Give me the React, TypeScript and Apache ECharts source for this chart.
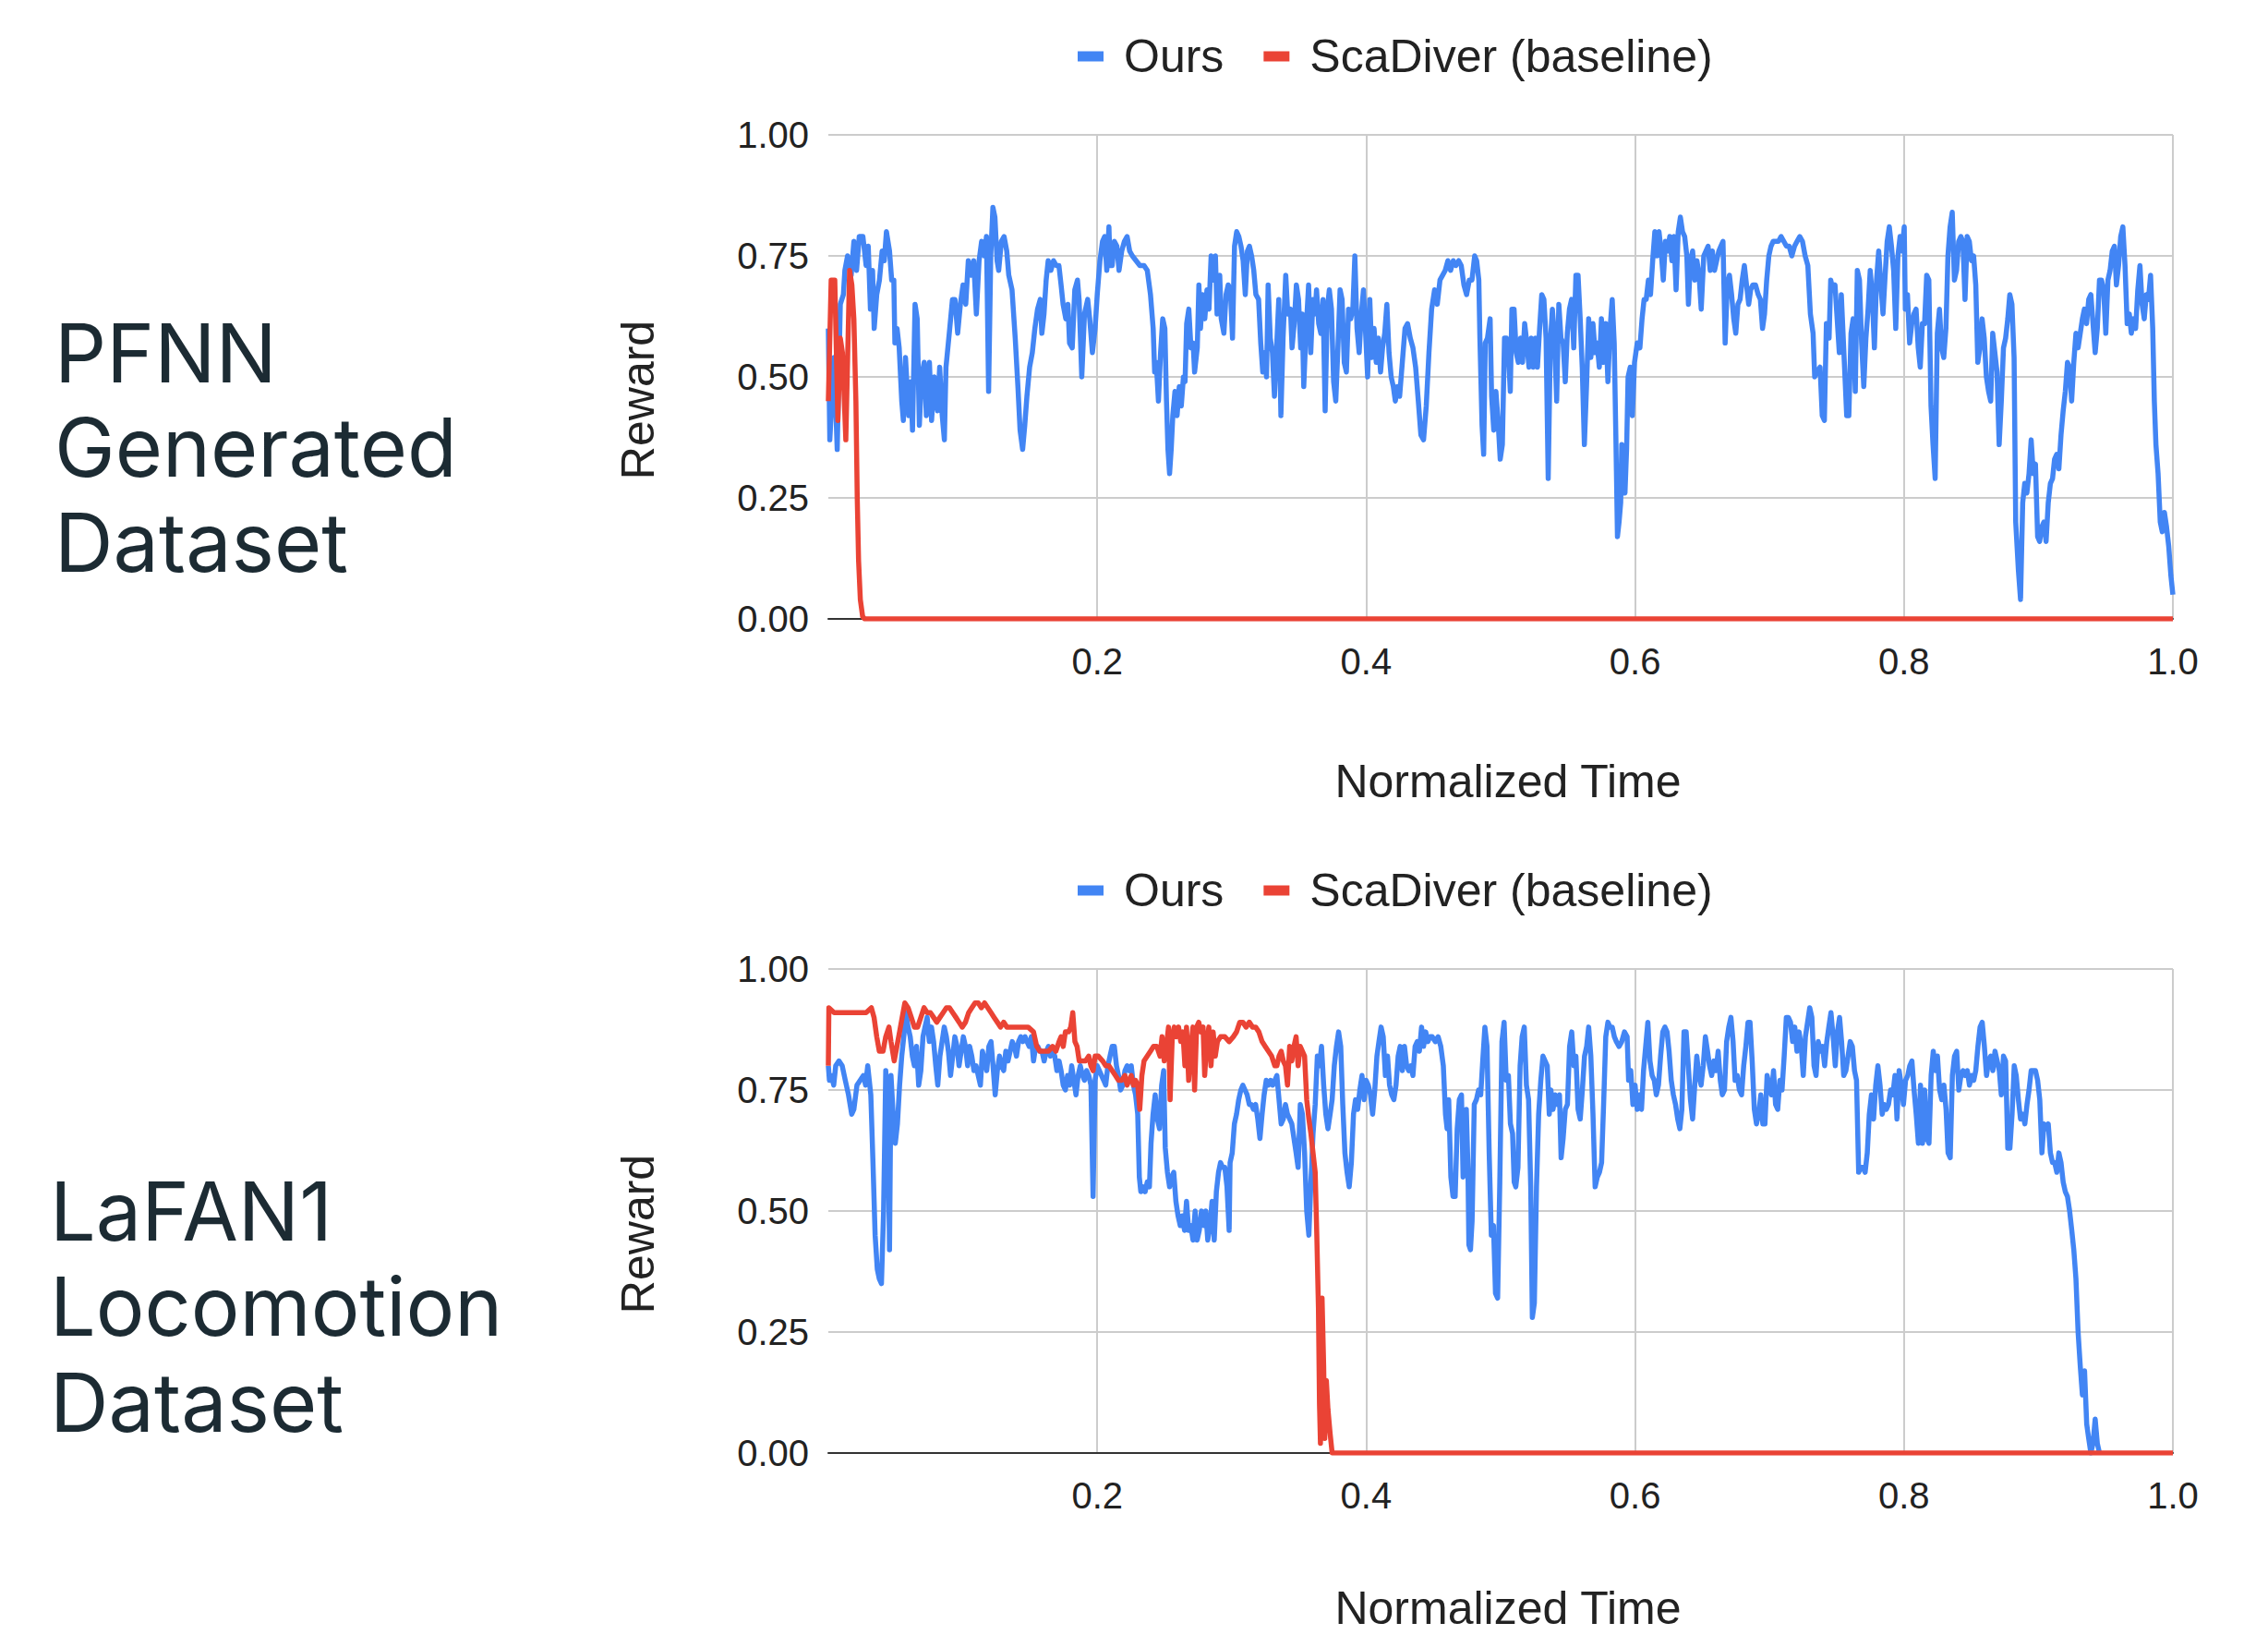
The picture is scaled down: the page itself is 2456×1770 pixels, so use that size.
import React, { useEffect, useRef } from "react";
import * as echarts from "echarts";

// ---------- data (normalized time, reward) ----------
const seriesNames = ["Ours", "ScaDiver (baseline)"];
const datasetTitles = [
  ["PFNN", "Generated", "Dataset"],
  ["LaFAN1", "Locomotion", "Dataset"],
];

const pfnnOurs: [number, number][] = [
  [0, 0.6], [0.0011, 0.37], [0.0043, 0.54], [0.0066, 0.35], [0.0089, 0.65], [0.0112, 0.67],
  [0.0123, 0.72], [0.0143, 0.75], [0.017, 0.71], [0.019, 0.78], [0.021, 0.72], [0.023, 0.79],
  [0.0257, 0.79], [0.0281, 0.73], [0.0297, 0.77], [0.0313, 0.64], [0.0329, 0.72], [0.0341, 0.6],
  [0.036, 0.67], [0.038, 0.7], [0.04, 0.76], [0.0416, 0.74], [0.0432, 0.8], [0.0455, 0.76],
  [0.0471, 0.7], [0.0487, 0.7], [0.0495, 0.57], [0.0511, 0.6], [0.0527, 0.56], [0.0546, 0.45],
  [0.0558, 0.41], [0.0574, 0.54], [0.0598, 0.42], [0.0614, 0.49], [0.0626, 0.39], [0.0645, 0.65],
  [0.0661, 0.62], [0.0677, 0.4], [0.0693, 0.5], [0.0713, 0.53], [0.0729, 0.42], [0.0752, 0.53],
  [0.0768, 0.41], [0.0788, 0.5], [0.0812, 0.43], [0.0828, 0.52], [0.0847, 0.42], [0.0863, 0.37],
  [0.0875, 0.52], [0.0903, 0.6], [0.0923, 0.66], [0.0942, 0.66], [0.0962, 0.59], [0.0982, 0.65],
  [0.1002, 0.69], [0.1022, 0.65], [0.1041, 0.74], [0.1061, 0.71], [0.1081, 0.74], [0.1101, 0.63],
  [0.1121, 0.74], [0.114, 0.78], [0.116, 0.75], [0.1176, 0.79], [0.1192, 0.47], [0.1208, 0.75],
  [0.1224, 0.85], [0.1239, 0.83], [0.1255, 0.74], [0.1267, 0.72], [0.1287, 0.78], [0.1307, 0.79],
  [0.1327, 0.76], [0.1342, 0.71], [0.1366, 0.68], [0.139, 0.58], [0.141, 0.48], [0.1426, 0.39],
  [0.1445, 0.35], [0.1461, 0.4], [0.1477, 0.46], [0.1497, 0.52], [0.1517, 0.55], [0.1536, 0.6],
  [0.1556, 0.64], [0.1576, 0.66], [0.1588, 0.59], [0.1604, 0.63], [0.162, 0.7], [0.1635, 0.74],
  [0.1655, 0.72], [0.1675, 0.74], [0.1695, 0.73], [0.1715, 0.73], [0.1731, 0.69], [0.1746, 0.65],
  [0.1766, 0.62], [0.1782, 0.65], [0.1794, 0.57], [0.1814, 0.56], [0.1833, 0.68], [0.1853, 0.7],
  [0.1865, 0.66], [0.1885, 0.5], [0.1905, 0.63], [0.1929, 0.66], [0.1944, 0.62], [0.1964, 0.55],
  [0.1984, 0.6], [0.2, 0.67], [0.202, 0.74], [0.2039, 0.78], [0.2055, 0.79], [0.2071, 0.72],
  [0.2087, 0.81], [0.2095, 0.73], [0.2111, 0.73], [0.2127, 0.78], [0.2146, 0.77], [0.2162, 0.72],
  [0.2182, 0.76], [0.2202, 0.78], [0.2222, 0.79], [0.2241, 0.76], [0.2261, 0.75], [0.2289, 0.74],
  [0.2317, 0.73], [0.2348, 0.73], [0.2372, 0.72], [0.2396, 0.67], [0.2416, 0.6], [0.2427, 0.51],
  [0.2439, 0.53], [0.2455, 0.45], [0.2471, 0.55], [0.2487, 0.62], [0.2503, 0.6], [0.2515, 0.45],
  [0.2526, 0.35], [0.2538, 0.3], [0.255, 0.35], [0.2562, 0.42], [0.2578, 0.47], [0.2594, 0.42],
  [0.261, 0.48], [0.2625, 0.44], [0.2641, 0.5], [0.2653, 0.49], [0.2665, 0.61], [0.2681, 0.64],
  [0.2697, 0.56], [0.2713, 0.57], [0.2724, 0.51], [0.2744, 0.56], [0.2756, 0.69], [0.2768, 0.6],
  [0.2784, 0.67], [0.28, 0.62], [0.2816, 0.68], [0.2831, 0.64], [0.2847, 0.75], [0.2863, 0.7],
  [0.2879, 0.75], [0.2891, 0.63], [0.2911, 0.71], [0.2922, 0.62], [0.2942, 0.59], [0.2958, 0.67],
  [0.2974, 0.69], [0.299, 0.68], [0.3006, 0.58], [0.3021, 0.77], [0.3037, 0.8], [0.3053, 0.79],
  [0.3069, 0.77], [0.3085, 0.74], [0.3101, 0.67], [0.3117, 0.76], [0.3132, 0.77], [0.3148, 0.75],
  [0.3164, 0.72], [0.318, 0.67], [0.32, 0.66], [0.3216, 0.57], [0.3231, 0.51], [0.3243, 0.55],
  [0.3259, 0.5], [0.3271, 0.69], [0.3287, 0.58], [0.3303, 0.55], [0.3318, 0.46], [0.3334, 0.56],
  [0.335, 0.66], [0.3366, 0.42], [0.3382, 0.58], [0.3402, 0.71], [0.3417, 0.63], [0.3437, 0.64],
  [0.3449, 0.56], [0.3465, 0.61], [0.3481, 0.69], [0.3497, 0.66], [0.3513, 0.56], [0.3524, 0.63],
  [0.3536, 0.48], [0.3552, 0.59], [0.3572, 0.69], [0.3588, 0.55], [0.3604, 0.66], [0.3619, 0.63],
  [0.3631, 0.68], [0.3647, 0.61], [0.3663, 0.59], [0.3679, 0.66], [0.3695, 0.43], [0.3711, 0.64],
  [0.3726, 0.68], [0.3742, 0.64], [0.3758, 0.49], [0.3774, 0.45], [0.379, 0.56], [0.3806, 0.68],
  [0.3821, 0.66], [0.3837, 0.53], [0.3853, 0.51], [0.3869, 0.64], [0.3885, 0.62], [0.3901, 0.64],
  [0.3916, 0.75], [0.3932, 0.6], [0.3948, 0.55], [0.3964, 0.63], [0.398, 0.68], [0.3996, 0.59],
  [0.4011, 0.5], [0.4027, 0.66], [0.4043, 0.54], [0.4059, 0.6], [0.4075, 0.53], [0.4091, 0.58],
  [0.4107, 0.51], [0.4122, 0.56], [0.4138, 0.59], [0.4154, 0.65], [0.417, 0.55], [0.4186, 0.5],
  [0.4202, 0.48], [0.4217, 0.45], [0.4233, 0.48], [0.4249, 0.46], [0.4269, 0.53], [0.4289, 0.6],
  [0.4308, 0.61], [0.4328, 0.58], [0.4348, 0.56], [0.4368, 0.52], [0.4388, 0.45], [0.4407, 0.38],
  [0.4427, 0.37], [0.4447, 0.44], [0.4467, 0.55], [0.4487, 0.64], [0.4509, 0.68], [0.4529, 0.65],
  [0.4549, 0.7], [0.4569, 0.71], [0.4588, 0.72], [0.4608, 0.74], [0.4628, 0.72], [0.4648, 0.74],
  [0.4668, 0.73], [0.4688, 0.74], [0.4707, 0.73], [0.4727, 0.69], [0.4747, 0.67], [0.4767, 0.7],
  [0.4787, 0.7], [0.4807, 0.75], [0.4822, 0.74], [0.4838, 0.7], [0.4846, 0.58], [0.4862, 0.4],
  [0.4874, 0.34], [0.4886, 0.57], [0.4902, 0.58], [0.4922, 0.62], [0.4933, 0.46], [0.4949, 0.39],
  [0.4965, 0.47], [0.4981, 0.41], [0.4997, 0.33], [0.5013, 0.36], [0.5029, 0.58], [0.5044, 0.58],
  [0.5056, 0.56], [0.5072, 0.47], [0.5084, 0.64], [0.51, 0.64], [0.5116, 0.55], [0.5132, 0.53],
  [0.5148, 0.58], [0.5163, 0.53], [0.5179, 0.61], [0.5195, 0.57], [0.5211, 0.52], [0.5227, 0.58],
  [0.5243, 0.52], [0.5259, 0.58], [0.5274, 0.52], [0.529, 0.6], [0.5306, 0.67], [0.5322, 0.66],
  [0.5338, 0.58], [0.5354, 0.29], [0.537, 0.57], [0.5385, 0.64], [0.5401, 0.58], [0.5417, 0.45],
  [0.5433, 0.65], [0.5449, 0.58], [0.5465, 0.57], [0.5481, 0.49], [0.5496, 0.59], [0.5512, 0.64],
  [0.5528, 0.66], [0.5544, 0.56], [0.556, 0.71], [0.5576, 0.71], [0.5592, 0.62], [0.5607, 0.52],
  [0.5623, 0.36], [0.5639, 0.48], [0.5655, 0.62], [0.5671, 0.54], [0.5687, 0.61], [0.5703, 0.55],
  [0.5718, 0.57], [0.5734, 0.52], [0.575, 0.62], [0.5766, 0.53], [0.5782, 0.61], [0.5798, 0.49],
  [0.5814, 0.6], [0.583, 0.66], [0.5845, 0.57], [0.5857, 0.38], [0.5869, 0.17], [0.5881, 0.2],
  [0.5893, 0.24], [0.5901, 0.36], [0.5913, 0.28], [0.5925, 0.26], [0.5937, 0.35], [0.5948, 0.5],
  [0.5964, 0.52], [0.598, 0.42], [0.5996, 0.53], [0.6016, 0.57], [0.6036, 0.56], [0.6052, 0.62],
  [0.6067, 0.66], [0.6083, 0.66], [0.6099, 0.7], [0.6115, 0.67], [0.6131, 0.74], [0.6147, 0.8],
  [0.6163, 0.75], [0.6178, 0.8], [0.6194, 0.76], [0.621, 0.7], [0.6226, 0.78], [0.6242, 0.76],
  [0.6258, 0.79], [0.6274, 0.74], [0.6289, 0.79], [0.6305, 0.68], [0.6321, 0.8], [0.6337, 0.83],
  [0.6353, 0.8], [0.6369, 0.79], [0.6385, 0.75], [0.6397, 0.65], [0.6412, 0.74], [0.6428, 0.76],
  [0.6444, 0.7], [0.646, 0.74], [0.6476, 0.71], [0.6492, 0.64], [0.6511, 0.75], [0.6527, 0.76],
  [0.6543, 0.77], [0.6559, 0.72], [0.6575, 0.76], [0.6591, 0.72], [0.6607, 0.74], [0.6623, 0.76],
  [0.6638, 0.77], [0.6654, 0.78], [0.667, 0.57], [0.6686, 0.69], [0.6702, 0.71], [0.6718, 0.67],
  [0.6734, 0.62], [0.6749, 0.59], [0.6765, 0.65], [0.6781, 0.66], [0.6797, 0.7], [0.6813, 0.73],
  [0.6829, 0.69], [0.6845, 0.65], [0.686, 0.68], [0.6876, 0.69], [0.6896, 0.69], [0.6916, 0.67],
  [0.6932, 0.66], [0.6948, 0.6], [0.6963, 0.63], [0.6979, 0.7], [0.6995, 0.75], [0.7011, 0.77],
  [0.7027, 0.78], [0.7047, 0.78], [0.7067, 0.78], [0.7086, 0.79], [0.7106, 0.78], [0.7126, 0.77],
  [0.7146, 0.77], [0.7166, 0.75], [0.7186, 0.77], [0.7205, 0.78], [0.7225, 0.79], [0.7245, 0.78],
  [0.7265, 0.75], [0.7285, 0.73], [0.7304, 0.63], [0.7324, 0.59], [0.7336, 0.5], [0.7352, 0.51],
  [0.7376, 0.52], [0.7392, 0.42], [0.7408, 0.41], [0.7423, 0.61], [0.7443, 0.58], [0.7455, 0.7],
  [0.7471, 0.68], [0.7487, 0.69], [0.7503, 0.62], [0.7519, 0.55], [0.7534, 0.67], [0.755, 0.57],
  [0.7574, 0.42], [0.759, 0.42], [0.7606, 0.59], [0.7622, 0.62], [0.7638, 0.47], [0.7653, 0.72],
  [0.7669, 0.7], [0.7685, 0.57], [0.7701, 0.48], [0.7717, 0.58], [0.7733, 0.64], [0.7749, 0.72],
  [0.7764, 0.67], [0.778, 0.56], [0.7796, 0.7], [0.7812, 0.76], [0.7828, 0.69], [0.7844, 0.63],
  [0.786, 0.71], [0.7875, 0.78], [0.7891, 0.81], [0.7907, 0.77], [0.7923, 0.72], [0.7939, 0.6],
  [0.7955, 0.75], [0.7971, 0.79], [0.7986, 0.76], [0.8002, 0.81], [0.801, 0.64], [0.8026, 0.67],
  [0.8042, 0.57], [0.8058, 0.61], [0.8074, 0.63], [0.809, 0.64], [0.8106, 0.56], [0.8121, 0.52],
  [0.8137, 0.61], [0.8153, 0.61], [0.8169, 0.71], [0.8185, 0.7], [0.8201, 0.44], [0.8216, 0.36],
  [0.8232, 0.29], [0.8248, 0.59], [0.8264, 0.64], [0.828, 0.56], [0.8296, 0.54], [0.8312, 0.6],
  [0.8327, 0.75], [0.8343, 0.81], [0.8359, 0.84], [0.8375, 0.7], [0.8391, 0.72], [0.8407, 0.78],
  [0.8423, 0.79], [0.8438, 0.78], [0.8454, 0.66], [0.847, 0.79], [0.8486, 0.78], [0.8502, 0.74],
  [0.8518, 0.75], [0.8534, 0.69], [0.8549, 0.53], [0.8565, 0.56], [0.8581, 0.62], [0.8597, 0.58],
  [0.8613, 0.5], [0.8629, 0.47], [0.8645, 0.45], [0.866, 0.59], [0.8676, 0.55], [0.8692, 0.51],
  [0.8708, 0.36], [0.8724, 0.45], [0.874, 0.56], [0.8756, 0.58], [0.8772, 0.62], [0.8787, 0.67],
  [0.8803, 0.65], [0.8819, 0.54], [0.8831, 0.2], [0.8851, 0.1], [0.8867, 0.04], [0.8883, 0.24],
  [0.8898, 0.28], [0.8914, 0.26], [0.893, 0.3], [0.8946, 0.37], [0.8962, 0.3], [0.8978, 0.32],
  [0.8994, 0.17], [0.9009, 0.16], [0.9025, 0.19], [0.9041, 0.2], [0.9057, 0.16], [0.9073, 0.24],
  [0.9089, 0.28], [0.9105, 0.29], [0.912, 0.33], [0.9136, 0.34], [0.9152, 0.31], [0.9168, 0.38],
  [0.9184, 0.43], [0.92, 0.47], [0.9216, 0.53], [0.9231, 0.52], [0.9247, 0.45], [0.9263, 0.53],
  [0.9279, 0.59], [0.9295, 0.56], [0.9311, 0.59], [0.9327, 0.62], [0.9342, 0.64], [0.9358, 0.61],
  [0.9374, 0.66], [0.939, 0.67], [0.9406, 0.61], [0.9422, 0.55], [0.9438, 0.6], [0.9454, 0.7],
  [0.9469, 0.7], [0.9485, 0.68], [0.9501, 0.59], [0.9517, 0.7], [0.9533, 0.72], [0.9549, 0.76],
  [0.9565, 0.77], [0.958, 0.69], [0.9596, 0.73], [0.9612, 0.79], [0.9628, 0.81], [0.9644, 0.73],
  [0.966, 0.61], [0.9676, 0.63], [0.9691, 0.59], [0.9707, 0.62], [0.9723, 0.6], [0.9739, 0.68],
  [0.9755, 0.73], [0.9771, 0.65], [0.9787, 0.62], [0.9802, 0.67], [0.9818, 0.66], [0.9834, 0.71],
  [0.985, 0.6], [0.9862, 0.45], [0.9874, 0.36], [0.989, 0.3], [0.9906, 0.2], [0.9921, 0.18],
  [0.9937, 0.22], [0.9953, 0.19], [0.9969, 0.15], [0.9985, 0.09], [1, 0.05],
];

const pfnnScaDiver: [number, number][] = [
  [0, 0.45], [0.0021, 0.7], [0.0048, 0.7], [0.0071, 0.41], [0.0089, 0.58], [0.0105, 0.55],
  [0.013, 0.37], [0.0158, 0.72], [0.0175, 0.69], [0.019, 0.62], [0.0205, 0.45], [0.0215, 0.25],
  [0.0225, 0.12], [0.0238, 0.04], [0.0255, 0.005], [0.027, 0], [1, 0],
];

const lafanOurs: [number, number][] = [
  [0, 0.8], [0.0008, 0.77], [0.0024, 0.78], [0.004, 0.76], [0.0055, 0.8], [0.0079, 0.81],
  [0.0103, 0.8], [0.0126, 0.77], [0.015, 0.74], [0.0174, 0.7], [0.019, 0.71], [0.0213, 0.76],
  [0.0237, 0.77], [0.0261, 0.78], [0.0277, 0.76], [0.0293, 0.8], [0.0316, 0.74], [0.0332, 0.6],
  [0.0348, 0.45], [0.0364, 0.38], [0.0379, 0.36], [0.0395, 0.35], [0.0411, 0.5], [0.0427, 0.79],
  [0.0443, 0.7], [0.0455, 0.42], [0.0466, 0.78], [0.0482, 0.7], [0.0498, 0.64], [0.0514, 0.68],
  [0.053, 0.76], [0.0546, 0.82], [0.0561, 0.86], [0.0577, 0.91], [0.0593, 0.88], [0.0609, 0.86],
  [0.0625, 0.82], [0.064, 0.8], [0.0656, 0.84], [0.0672, 0.76], [0.0688, 0.79], [0.0704, 0.86],
  [0.0719, 0.88], [0.0735, 0.9], [0.0751, 0.85], [0.0767, 0.88], [0.0783, 0.85], [0.0799, 0.8],
  [0.0814, 0.76], [0.083, 0.82], [0.0846, 0.85], [0.0862, 0.88], [0.0878, 0.86], [0.0893, 0.83],
  [0.0909, 0.78], [0.0925, 0.82], [0.0941, 0.86], [0.0957, 0.84], [0.0972, 0.8], [0.0988, 0.83],
  [0.1004, 0.86], [0.102, 0.84], [0.1036, 0.8], [0.1051, 0.84], [0.1067, 0.82], [0.1083, 0.79],
  [0.1099, 0.8], [0.1115, 0.78], [0.1131, 0.76], [0.1146, 0.83], [0.1162, 0.81], [0.1178, 0.79],
  [0.1194, 0.84], [0.121, 0.85], [0.1225, 0.8], [0.1241, 0.74], [0.1257, 0.79], [0.1273, 0.82],
  [0.1289, 0.8], [0.1304, 0.79], [0.132, 0.83], [0.1336, 0.81], [0.1352, 0.83], [0.1368, 0.85],
  [0.1384, 0.84], [0.1399, 0.82], [0.1415, 0.85], [0.1431, 0.86], [0.1447, 0.85], [0.1463, 0.86],
  [0.1478, 0.85], [0.1494, 0.84], [0.151, 0.86], [0.1526, 0.81], [0.1542, 0.84], [0.1558, 0.84],
  [0.1573, 0.83], [0.1589, 0.83], [0.1605, 0.81], [0.1621, 0.83], [0.1637, 0.84], [0.1652, 0.82],
  [0.1668, 0.83], [0.1684, 0.82], [0.17, 0.79], [0.1716, 0.81], [0.1731, 0.79], [0.1747, 0.76],
  [0.1763, 0.75], [0.1779, 0.78], [0.1795, 0.76], [0.181, 0.8], [0.1826, 0.77], [0.1842, 0.74],
  [0.1858, 0.78], [0.1874, 0.8], [0.189, 0.78], [0.1905, 0.77], [0.1921, 0.79], [0.1937, 0.78],
  [0.1953, 0.76], [0.1969, 0.53], [0.1984, 0.77], [0.2, 0.8], [0.2016, 0.79], [0.2032, 0.78],
  [0.2048, 0.77], [0.2063, 0.76], [0.2079, 0.8], [0.2095, 0.82], [0.2111, 0.84], [0.2127, 0.84],
  [0.2143, 0.8], [0.2158, 0.78], [0.2174, 0.75], [0.219, 0.76], [0.2206, 0.79], [0.2222, 0.8],
  [0.2237, 0.79], [0.2253, 0.8], [0.2269, 0.76], [0.2285, 0.74], [0.2301, 0.7], [0.2313, 0.57],
  [0.2324, 0.54], [0.234, 0.55], [0.2356, 0.54], [0.2372, 0.56], [0.2388, 0.55], [0.24, 0.64],
  [0.2415, 0.7], [0.2431, 0.74], [0.2447, 0.69], [0.2463, 0.67], [0.2479, 0.76], [0.2494, 0.79],
  [0.2506, 0.63], [0.2522, 0.58], [0.2538, 0.55], [0.2554, 0.57], [0.2569, 0.58], [0.2585, 0.52],
  [0.2601, 0.49], [0.2617, 0.47], [0.2633, 0.49], [0.2649, 0.46], [0.2664, 0.52], [0.268, 0.46],
  [0.2696, 0.47], [0.2712, 0.44], [0.2728, 0.5], [0.2743, 0.44], [0.2759, 0.46], [0.2775, 0.5],
  [0.2791, 0.47], [0.2807, 0.5], [0.2822, 0.44], [0.2838, 0.47], [0.2854, 0.52], [0.287, 0.44],
  [0.2886, 0.54], [0.2902, 0.58], [0.2917, 0.6], [0.2933, 0.59], [0.2949, 0.59], [0.2965, 0.55],
  [0.2981, 0.46], [0.2988, 0.6], [0.3004, 0.62], [0.302, 0.68], [0.3036, 0.7], [0.3052, 0.73],
  [0.3068, 0.75], [0.3083, 0.76], [0.3099, 0.75], [0.3115, 0.74], [0.3131, 0.72], [0.3147, 0.72],
  [0.3162, 0.71], [0.3178, 0.72], [0.3194, 0.69], [0.321, 0.65], [0.3226, 0.7], [0.3241, 0.74],
  [0.3257, 0.77], [0.3273, 0.76], [0.3289, 0.77], [0.3305, 0.76], [0.3321, 0.77], [0.3336, 0.78],
  [0.3352, 0.73], [0.3368, 0.68], [0.3384, 0.69], [0.34, 0.72], [0.3415, 0.7], [0.3431, 0.69],
  [0.3447, 0.68], [0.3463, 0.65], [0.3479, 0.62], [0.3494, 0.59], [0.351, 0.72], [0.3526, 0.7],
  [0.3542, 0.62], [0.3558, 0.5], [0.3574, 0.45], [0.3589, 0.56], [0.3605, 0.66], [0.3621, 0.72],
  [0.3637, 0.82], [0.3653, 0.8], [0.3668, 0.84], [0.3684, 0.76], [0.37, 0.7], [0.3716, 0.67],
  [0.3732, 0.7], [0.3747, 0.73], [0.3763, 0.8], [0.3779, 0.84], [0.3795, 0.87], [0.3811, 0.84],
  [0.3826, 0.72], [0.3842, 0.62], [0.3858, 0.58], [0.3874, 0.55], [0.389, 0.6], [0.3906, 0.7],
  [0.3921, 0.73], [0.3937, 0.71], [0.3953, 0.75], [0.3969, 0.78], [0.3985, 0.73], [0.4, 0.77],
  [0.4016, 0.76], [0.4032, 0.74], [0.4048, 0.7], [0.4064, 0.75], [0.408, 0.82], [0.4095, 0.85],
  [0.4111, 0.88], [0.4127, 0.86], [0.4143, 0.78], [0.4159, 0.82], [0.4174, 0.76], [0.419, 0.74],
  [0.4206, 0.73], [0.4222, 0.76], [0.4238, 0.82], [0.4253, 0.84], [0.4269, 0.79], [0.4285, 0.84],
  [0.4301, 0.8], [0.4317, 0.79], [0.4332, 0.8], [0.4348, 0.78], [0.4364, 0.84], [0.438, 0.85],
  [0.4396, 0.83], [0.4412, 0.88], [0.4427, 0.84], [0.4443, 0.87], [0.4459, 0.85], [0.4475, 0.86],
  [0.4491, 0.86], [0.4515, 0.85], [0.4535, 0.86], [0.4555, 0.84], [0.4574, 0.8], [0.459, 0.7],
  [0.4602, 0.67], [0.4614, 0.73], [0.463, 0.57], [0.4646, 0.53], [0.4662, 0.53], [0.4677, 0.67],
  [0.4693, 0.73], [0.4709, 0.74], [0.4721, 0.57], [0.4733, 0.61], [0.4745, 0.71], [0.4757, 0.59],
  [0.4764, 0.43], [0.4776, 0.42], [0.4788, 0.48], [0.4804, 0.72], [0.482, 0.73], [0.4836, 0.75],
  [0.4852, 0.74], [0.4867, 0.81], [0.4883, 0.88], [0.4899, 0.84], [0.4915, 0.62], [0.4931, 0.45],
  [0.4947, 0.47], [0.4962, 0.33], [0.4978, 0.32], [0.4994, 0.56], [0.501, 0.85], [0.5026, 0.89],
  [0.5042, 0.77], [0.5058, 0.78], [0.5073, 0.68], [0.5089, 0.66], [0.5101, 0.56], [0.5113, 0.55],
  [0.5129, 0.59], [0.5145, 0.8], [0.516, 0.86], [0.5176, 0.88], [0.5192, 0.76], [0.5208, 0.73],
  [0.5224, 0.55], [0.5236, 0.28], [0.5251, 0.31], [0.5267, 0.55], [0.5283, 0.7], [0.5299, 0.77],
  [0.5315, 0.82], [0.5331, 0.81], [0.5347, 0.8], [0.5362, 0.7], [0.5374, 0.75], [0.539, 0.71],
  [0.5406, 0.74], [0.5422, 0.72], [0.5438, 0.74], [0.545, 0.61], [0.5465, 0.65], [0.5481, 0.71],
  [0.5497, 0.72], [0.5513, 0.84], [0.5529, 0.87], [0.5545, 0.8], [0.556, 0.82], [0.5576, 0.71],
  [0.5592, 0.69], [0.5608, 0.75], [0.5624, 0.82], [0.564, 0.84], [0.5655, 0.88], [0.5671, 0.82],
  [0.5687, 0.7], [0.5703, 0.55], [0.5719, 0.57], [0.5735, 0.58], [0.5751, 0.6], [0.5766, 0.72],
  [0.5782, 0.86], [0.5798, 0.89], [0.5814, 0.88], [0.583, 0.88], [0.5846, 0.86], [0.5861, 0.85],
  [0.5881, 0.84], [0.5901, 0.85], [0.5921, 0.87], [0.5941, 0.86], [0.5952, 0.77], [0.5968, 0.79],
  [0.5984, 0.72], [0.6, 0.76], [0.6016, 0.71], [0.6032, 0.74], [0.6048, 0.71], [0.6063, 0.79],
  [0.6079, 0.84], [0.6095, 0.89], [0.6111, 0.81], [0.6127, 0.78], [0.6143, 0.77], [0.6158, 0.74],
  [0.6174, 0.76], [0.619, 0.82], [0.6206, 0.87], [0.6222, 0.88], [0.6238, 0.87], [0.6253, 0.83],
  [0.6269, 0.77], [0.6285, 0.74], [0.6301, 0.72], [0.6317, 0.69], [0.6333, 0.67], [0.6348, 0.71],
  [0.6364, 0.87], [0.638, 0.87], [0.6396, 0.8], [0.6412, 0.73], [0.6428, 0.69], [0.6444, 0.76],
  [0.6459, 0.82], [0.6475, 0.78], [0.6491, 0.76], [0.6507, 0.8], [0.6523, 0.86], [0.6539, 0.83],
  [0.6554, 0.8], [0.657, 0.78], [0.6586, 0.81], [0.6602, 0.79], [0.6618, 0.83], [0.6634, 0.77],
  [0.6649, 0.74], [0.6665, 0.75], [0.6681, 0.85], [0.6697, 0.88], [0.6713, 0.9], [0.6729, 0.85],
  [0.6744, 0.77], [0.676, 0.78], [0.6776, 0.75], [0.6792, 0.74], [0.6808, 0.8], [0.6824, 0.84],
  [0.684, 0.89], [0.6855, 0.89], [0.6871, 0.81], [0.6887, 0.71], [0.6903, 0.68], [0.6919, 0.7],
  [0.6935, 0.74], [0.695, 0.68], [0.6966, 0.68], [0.6982, 0.78], [0.6998, 0.76], [0.7014, 0.74],
  [0.703, 0.79], [0.7045, 0.72], [0.7061, 0.71], [0.7077, 0.77], [0.7093, 0.75], [0.7109, 0.82],
  [0.7125, 0.9], [0.714, 0.9], [0.7156, 0.89], [0.7172, 0.85], [0.7188, 0.88], [0.7204, 0.83],
  [0.722, 0.87], [0.7236, 0.84], [0.7251, 0.78], [0.7267, 0.86], [0.7283, 0.89], [0.7299, 0.92],
  [0.7315, 0.9], [0.7331, 0.8], [0.7346, 0.78], [0.7362, 0.85], [0.7378, 0.83], [0.7394, 0.84],
  [0.741, 0.8], [0.7426, 0.85], [0.7441, 0.88], [0.7457, 0.91], [0.7473, 0.86], [0.7489, 0.8],
  [0.7505, 0.87], [0.7521, 0.9], [0.7536, 0.85], [0.7552, 0.78], [0.7568, 0.79], [0.7584, 0.82],
  [0.76, 0.85], [0.7616, 0.84], [0.7632, 0.79], [0.7647, 0.77], [0.7663, 0.58], [0.7679, 0.59],
  [0.7695, 0.59], [0.7711, 0.58], [0.7727, 0.62], [0.7742, 0.7], [0.7758, 0.74], [0.7774, 0.69],
  [0.779, 0.76], [0.7806, 0.8], [0.7822, 0.76], [0.7838, 0.7], [0.7853, 0.72], [0.7869, 0.71],
  [0.7885, 0.72], [0.7901, 0.75], [0.7917, 0.74], [0.7933, 0.78], [0.7948, 0.69], [0.7964, 0.79],
  [0.798, 0.76], [0.7996, 0.72], [0.8012, 0.77], [0.8028, 0.78], [0.8043, 0.8], [0.8059, 0.81],
  [0.8075, 0.75], [0.8091, 0.7], [0.8107, 0.64], [0.8123, 0.76], [0.8138, 0.64], [0.8154, 0.75],
  [0.817, 0.65], [0.8186, 0.64], [0.8202, 0.78], [0.8218, 0.83], [0.8233, 0.79], [0.8249, 0.82],
  [0.8265, 0.75], [0.8281, 0.73], [0.8297, 0.76], [0.8313, 0.71], [0.8328, 0.62], [0.8344, 0.61],
  [0.836, 0.78], [0.8376, 0.82], [0.8392, 0.83], [0.8408, 0.75], [0.8424, 0.78], [0.8439, 0.79],
  [0.8455, 0.78], [0.8471, 0.79], [0.8487, 0.76], [0.8503, 0.78], [0.8519, 0.77], [0.8534, 0.79],
  [0.855, 0.84], [0.8566, 0.88], [0.8582, 0.89], [0.8598, 0.84], [0.8614, 0.78], [0.8629, 0.81],
  [0.8645, 0.82], [0.8661, 0.79], [0.8677, 0.83], [0.8693, 0.81], [0.8709, 0.79], [0.8724, 0.74],
  [0.874, 0.82], [0.8756, 0.81], [0.8772, 0.63], [0.8788, 0.63], [0.8804, 0.7], [0.882, 0.8],
  [0.8835, 0.78], [0.8851, 0.73], [0.8867, 0.69], [0.8883, 0.7], [0.8899, 0.68], [0.8915, 0.72],
  [0.893, 0.75], [0.8946, 0.79], [0.8962, 0.79], [0.8978, 0.79], [0.8994, 0.77], [0.901, 0.73],
  [0.9026, 0.62], [0.9041, 0.68], [0.9057, 0.67], [0.9073, 0.68], [0.9089, 0.62], [0.9105, 0.6],
  [0.9121, 0.6], [0.9137, 0.58], [0.9152, 0.62], [0.9168, 0.6], [0.9184, 0.56], [0.92, 0.54],
  [0.9216, 0.53], [0.9232, 0.5], [0.9248, 0.46], [0.9263, 0.42], [0.9279, 0.36], [0.9295, 0.25],
  [0.9311, 0.18], [0.9327, 0.12], [0.9343, 0.17], [0.9359, 0.06], [0.9374, 0.03], [0.939, 0],
  [0.9406, 0.02], [0.9422, 0.07], [0.9438, 0.02], [0.9454, 0],
];

const lafanScaDiver: [number, number][] = [
  [0, 0.8], [0.0004, 0.92], [0.0043, 0.91], [0.0083, 0.91], [0.0142, 0.91], [0.0221, 0.91],
  [0.0281, 0.91], [0.032, 0.92], [0.034, 0.9], [0.036, 0.86], [0.0379, 0.83], [0.0407, 0.83],
  [0.0427, 0.86], [0.0451, 0.88], [0.0466, 0.85], [0.049, 0.81], [0.051, 0.84], [0.053, 0.87],
  [0.0549, 0.9], [0.0569, 0.93], [0.0593, 0.92], [0.0617, 0.9], [0.064, 0.88], [0.0664, 0.88],
  [0.0688, 0.9], [0.0712, 0.92], [0.0735, 0.91], [0.0759, 0.91], [0.0783, 0.9], [0.0806, 0.89],
  [0.083, 0.9], [0.0854, 0.91], [0.0878, 0.92], [0.0901, 0.92], [0.0925, 0.91], [0.0949, 0.9],
  [0.0972, 0.89], [0.0996, 0.88], [0.102, 0.89], [0.1044, 0.91], [0.1067, 0.92], [0.1091, 0.93],
  [0.1115, 0.93], [0.1138, 0.92], [0.1162, 0.93], [0.1186, 0.92], [0.121, 0.91], [0.1233, 0.9],
  [0.1257, 0.89], [0.1281, 0.88], [0.1304, 0.89], [0.1328, 0.88], [0.1368, 0.88], [0.1407, 0.88],
  [0.1447, 0.88], [0.1486, 0.88], [0.1526, 0.87], [0.155, 0.84], [0.1573, 0.83], [0.1605, 0.83],
  [0.1637, 0.83], [0.1668, 0.84], [0.1692, 0.83], [0.1716, 0.85], [0.1731, 0.86], [0.1747, 0.84],
  [0.1763, 0.87], [0.1787, 0.87], [0.1803, 0.88], [0.1818, 0.91], [0.1834, 0.85], [0.185, 0.84],
  [0.1866, 0.81], [0.189, 0.81], [0.1913, 0.81], [0.1937, 0.82], [0.1953, 0.8], [0.1969, 0.79],
  [0.1984, 0.82], [0.2008, 0.82], [0.204, 0.81], [0.2063, 0.8], [0.2087, 0.8], [0.2111, 0.79],
  [0.2135, 0.78], [0.2158, 0.77], [0.2182, 0.77], [0.2206, 0.78], [0.2222, 0.76], [0.2237, 0.77],
  [0.2253, 0.78], [0.2269, 0.76], [0.2285, 0.77], [0.2301, 0.76], [0.2316, 0.71], [0.2332, 0.78],
  [0.2348, 0.81], [0.2372, 0.82], [0.2396, 0.83], [0.2419, 0.84], [0.2443, 0.84], [0.2467, 0.82],
  [0.2482, 0.86], [0.2498, 0.81], [0.2514, 0.84], [0.253, 0.88], [0.2542, 0.73], [0.2558, 0.86],
  [0.2573, 0.88], [0.2589, 0.86], [0.2605, 0.88], [0.2621, 0.85], [0.2637, 0.87], [0.2652, 0.8],
  [0.2664, 0.88], [0.268, 0.77], [0.2696, 0.84], [0.2712, 0.88], [0.2724, 0.75], [0.2739, 0.88],
  [0.2755, 0.89], [0.2771, 0.87], [0.2787, 0.88], [0.2799, 0.78], [0.2815, 0.85], [0.283, 0.88],
  [0.2846, 0.8], [0.2862, 0.87], [0.2878, 0.82], [0.2894, 0.85], [0.2917, 0.86], [0.2949, 0.86],
  [0.2981, 0.85], [0.3012, 0.86], [0.3036, 0.87], [0.306, 0.89], [0.3083, 0.89], [0.3107, 0.88],
  [0.3131, 0.89], [0.3155, 0.88], [0.3178, 0.88], [0.3202, 0.87], [0.3226, 0.85], [0.3249, 0.84],
  [0.3273, 0.83], [0.3297, 0.82], [0.3321, 0.8], [0.3336, 0.8], [0.3352, 0.82], [0.3368, 0.83],
  [0.3384, 0.81], [0.34, 0.8], [0.3415, 0.76], [0.3431, 0.84], [0.3447, 0.81], [0.3463, 0.84],
  [0.3479, 0.86], [0.3494, 0.8], [0.351, 0.84], [0.3526, 0.83], [0.3542, 0.82], [0.3558, 0.73],
  [0.3574, 0.69], [0.3589, 0.66], [0.3605, 0.62], [0.3621, 0.58], [0.3633, 0.45], [0.3645, 0.3],
  [0.3653, 0.1], [0.366, 0.02], [0.3672, 0.32], [0.3684, 0.18], [0.3692, 0.03], [0.3704, 0.15],
  [0.3716, 0.09], [0.3732, 0.04], [0.3747, 0], [1, 0],
];

const panels = [
  { ours: pfnnOurs, baseline: pfnnScaDiver },
  { ours: lafanOurs, baseline: lafanScaDiver },
];

// ---------- layout / style ----------
const W = 2456;
const H = 1770;
const PANEL_SHIFT = 903;
const GRID_LEFT = 897;
const GRID_TOP = 146;
const GRID_W = 1456;
const GRID_H = 524;
const BLUE = "#4285F4";
const RED = "#EA4335";
const FONT = "'Liberation Sans', Arial, Helvetica, sans-serif";
const TITLE_FONT = "Inter, 'Open Sans', sans-serif";
const TEXT = "#222222";
const LINE_W = 5.5;
const NAME_GAPS = [156, 148];

function buildOption() {
  const grid: any[] = [];
  const xAxis: any[] = [];
  const yAxis: any[] = [];
  const legend: any[] = [];
  const series: any[] = [];
  const graphic: any[] = [];

  panels.forEach((p, i) => {
    const off = i * PANEL_SHIFT;
    grid.push({ left: GRID_LEFT, top: GRID_TOP + off, width: GRID_W, height: GRID_H, containLabel: false });
    legend.push({
      data: seriesNames,
      left: 1167,
      top: 36 + off,
      padding: 0,
      itemWidth: 28,
      itemHeight: 11,
      itemGap: 43,
      icon: "rect",
      selectedMode: false,
      textStyle: { fontFamily: FONT, fontSize: 50, color: TEXT, padding: [0, 0, 0, 17] },
    });
    xAxis.push({
      type: "value",
      gridIndex: i,
      min: 0,
      max: 1,
      interval: 0.2,
      name: "Normalized Time",
      nameLocation: "middle",
      nameGap: NAME_GAPS[i],
      nameTextStyle: {
        fontFamily: FONT,
        fontSize: 50,
        lineHeight: 40,
        color: TEXT,
        padding: [0, 0, 0, 16],
      },
      axisLine: { show: true, onZero: false, lineStyle: { color: "#333333", width: 2 } },
      axisTick: { show: false },
      axisLabel: {
        fontFamily: FONT,
        fontSize: 40,
        color: TEXT,
        margin: 26,
        formatter: (v: number) => (v === 0 ? "" : v.toFixed(1)),
      },
      splitLine: { show: true, showMinLine: false, lineStyle: { color: "#cccccc", width: 2 } },
    });
    yAxis.push({
      type: "value",
      gridIndex: i,
      min: 0,
      max: 1,
      interval: 0.25,
      axisLine: { show: false },
      axisTick: { show: false },
      axisLabel: {
        fontFamily: FONT,
        fontSize: 40,
        color: TEXT,
        margin: 21,
        formatter: (v: number) => v.toFixed(2),
      },
      splitLine: { show: true, lineStyle: { color: "#cccccc", width: 2 } },
    });
    series.push({
      name: seriesNames[0],
      type: "line",
      xAxisIndex: i,
      yAxisIndex: i,
      data: p.ours,
      showSymbol: false,
      symbol: "none",
      lineStyle: { color: BLUE, width: LINE_W, join: "round" },
      itemStyle: { color: BLUE },
      z: 3,
    });
    series.push({
      name: seriesNames[1],
      type: "line",
      xAxisIndex: i,
      yAxisIndex: i,
      data: p.baseline,
      showSymbol: false,
      symbol: "none",
      lineStyle: { color: RED, width: LINE_W, join: "round" },
      itemStyle: { color: RED },
      z: 4,
    });
    graphic.push({
      type: "text",
      x: 691,
      y: 433 + off,
      rotation: Math.PI / 2,
      style: {
        text: "Reward",
        fontFamily: FONT,
        fontSize: 50,
        fill: TEXT,
        align: "center",
        verticalAlign: "middle",
      },
    });
  });

  const titleX = [59, 54];
  const titleY = [
    [382, 484, 587],
    [1311, 1414, 1518],
  ];
  datasetTitles.forEach((lines, i) => {
    lines.forEach((line, j) => {
      graphic.push({
        type: "text",
        x: titleX[i],
        y: titleY[i][j],
        style: {
          text: line,
          fontFamily: TITLE_FONT,
          fontSize: 88,
          fill: "#1c2b33",
          align: "left",
          verticalAlign: "middle",
        },
      });
    });
  });

  return {
    animation: false,
    backgroundColor: "#ffffff",
    grid,
    xAxis,
    yAxis,
    legend,
    series,
    graphic,
  };
}

export default function App() {
  const ref = useRef<HTMLDivElement>(null);
  useEffect(() => {
    if (!ref.current) return;
    const chart = echarts.init(ref.current, null, { renderer: "svg", width: W, height: H });
    chart.setOption(buildOption() as any);
    return () => chart.dispose();
  }, []);
  return (
    <div
      ref={ref}
      style={{ position: "absolute", left: 0, top: 0, width: W, height: H, background: "#fff" }}
    />
  );
}
